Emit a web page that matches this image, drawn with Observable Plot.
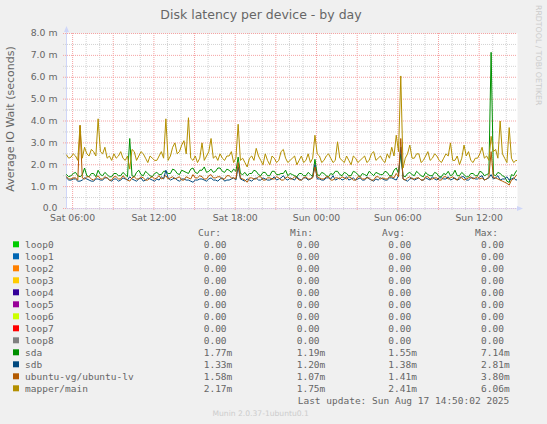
<!DOCTYPE html>
<html><head><meta charset="utf-8">
<script src="https://cdn.jsdelivr.net/npm/d3@7"></script>
<script src="https://cdn.jsdelivr.net/npm/@observablehq/plot@0.6"></script>
<style>
html,body{margin:0;padding:0;background:#f0f0f0;}
#wrap{position:relative;width:547px;height:424px;background:#f0f0f0;overflow:hidden;}
#wrap svg{position:absolute;left:0;top:0;}
</style></head><body><div id="wrap"></div>
<script>
// ---- time axis (hours since Sat 00:00) ----
const xStart = 5.55, xEnd = 38.83;      // Sat 05:33 .. Sun 14:50
const firstSample = 5.55, stepHours = 1/6;   // 10-minute samples
const hourMinor = [6,7,8,9,10,11,12,13,14,15,16,17,18,19,20,21,22,23,24,25,26,27,28,29,30,31,32,33,34,35,36,37,38].filter(h => h % 3 !== 0);
const hourMajor = [6,9,12,15,18,21,24,27,30,33,36];
const labelHours = [6,12,18,24,30,36];
const yMajor = [0,1,2,3,4,5,6,7,8];
const yMinor = [0.5,1.5,2.5,3.5,4.5,5.5,6.5,7.5];

// ---- series (milliseconds) ----
const sda = [1.55,1.45,1.5,1.6,1.65,1.5,1.45,1.55,1.85,1.5,1.45,1.6,1.6,1.45,1.75,1.55,1.5,1.65,1.55,1.45,
 1.45,1.6,1.6,1.5,1.5,1.65,1.55,1.45,3.2,1.5,1.45,1.65,1.75,1.55,1.5,1.7,1.6,1.5,1.45,1.6,
 1.65,1.55,1.55,1.7,1.7,1.6,1.6,1.8,1.75,1.6,1.55,1.75,1.7,1.65,1.6,1.8,1.85,1.65,1.6,1.75,
 1.75,1.9,1.65,1.7,1.8,1.65,1.7,1.85,1.85,1.7,1.65,1.8,1.75,1.65,1.8,1.7,2.35,1.6,1.55,1.65,
 1.5,1.6,1.6,1.75,1.7,1.55,1.5,1.65,1.65,1.5,1.5,1.7,1.7,1.55,1.55,1.6,1.6,1.75,1.5,1.6,
 1.55,1.5,1.45,1.6,1.6,1.5,1.5,1.65,1.55,1.45,2.25,1.55,1.5,1.65,1.6,1.5,1.45,1.6,1.55,1.7,
 1.7,1.55,1.5,1.65,1.6,1.5,1.5,1.7,1.65,1.55,1.45,1.6,1.55,1.5,1.7,1.6,1.5,1.65,1.6,1.55,
 1.55,1.7,1.65,1.5,1.5,1.75,1.85,1.6,2.5,1.5,1.45,1.6,1.65,1.55,1.5,1.7,1.6,1.5,1.45,1.65,
 1.55,1.5,1.5,1.65,1.6,1.45,1.45,1.6,1.55,1.7,1.5,1.55,1.75,1.5,1.5,1.65,1.55,1.45,1.45,1.6,
 1.6,1.5,1.5,1.7,1.65,1.5,1.55,1.6,7.14,1.55,1.5,1.65,1.6,1.5,1.45,1.25,1.19,1.55,1.5,1.7,
 1.77];
const sdb = [1.4,1.3,1.3,1.35,1.35,1.25,1.25,1.3,1.4,1.35,1.3,1.25,1.25,1.35,1.35,1.3,1.3,1.4,1.4,1.3,
 1.25,1.35,1.35,1.25,1.3,1.4,1.35,1.3,1.45,1.35,1.3,1.25,1.35,1.4,1.25,1.3,1.4,1.35,1.3,1.25,
 1.35,1.3,1.45,1.35,1.75,1.4,1.3,1.35,1.4,1.3,1.25,1.35,1.35,1.3,1.3,1.25,1.2,1.3,1.3,1.35,
 1.35,1.3,1.25,1.35,1.4,1.3,1.3,1.25,1.35,1.4,1.25,1.3,1.3,1.35,1.4,1.3,1.9,1.35,1.3,1.25,
 1.35,1.3,1.25,1.35,1.4,1.3,1.3,1.4,1.35,1.3,1.3,1.35,1.45,1.3,1.35,1.4,1.5,1.35,1.3,1.4,
 1.35,1.3,1.45,1.35,1.3,1.4,1.4,1.3,1.35,1.45,2.0,1.35,1.35,1.3,1.3,1.4,1.4,1.35,1.5,1.3,
 1.35,1.4,1.3,1.35,1.45,1.3,1.35,1.4,1.3,1.35,1.4,1.3,1.3,1.45,1.35,1.3,1.25,1.35,1.3,1.4,
 1.35,1.3,1.3,1.4,1.4,1.35,1.3,1.5,2.81,1.35,1.3,1.25,1.35,1.4,1.3,1.35,1.4,1.3,1.3,1.4,
 1.35,1.3,1.45,1.35,1.3,1.4,1.4,1.35,1.35,1.45,1.3,1.35,1.4,1.3,1.35,1.45,1.45,1.3,1.3,1.4,
 1.4,1.35,1.35,1.45,1.5,1.3,1.35,1.4,1.55,1.35,1.4,1.5,1.3,1.35,1.35,1.45,1.3,1.35,1.4,1.3,
 1.33];
const ubuntuLv = [1.45,1.35,1.35,1.4,1.4,1.3,3.8,1.4,1.35,1.45,1.45,1.35,1.3,1.4,1.5,1.35,1.35,1.45,1.4,1.3,
 1.3,1.45,1.45,1.35,1.35,1.5,1.4,1.3,1.25,1.4,1.45,1.35,1.35,1.45,1.4,1.3,1.3,1.4,1.45,1.35,
 1.4,1.5,1.35,1.4,1.5,1.35,1.4,1.45,1.35,1.4,1.45,1.3,1.3,1.45,1.4,1.35,1.55,1.4,1.4,1.5,
 1.45,1.35,1.35,1.5,1.55,1.4,1.4,1.45,1.45,1.35,1.35,1.5,1.5,1.4,1.4,1.35,2.1,1.4,1.35,1.3,
 1.2,1.4,1.4,1.35,1.35,1.45,1.45,1.3,1.3,1.4,1.4,1.35,1.35,1.45,1.4,1.3,1.3,1.4,1.45,1.35,
 1.35,1.45,1.4,1.3,1.3,1.4,1.45,1.35,1.35,1.4,1.9,1.45,1.4,1.35,1.35,1.45,1.45,1.3,1.3,1.4,
 1.4,1.35,1.45,1.4,1.35,1.45,1.4,1.3,1.3,1.45,1.45,1.35,1.35,1.4,1.4,1.3,1.3,1.45,1.45,1.35,
 1.4,1.35,1.35,1.45,1.45,1.4,1.6,1.45,3.2,1.35,1.3,1.4,1.45,1.35,1.35,1.4,1.4,1.3,1.3,1.45,
 1.45,1.35,1.35,1.4,1.4,1.3,1.3,1.45,1.45,1.35,1.4,1.45,1.35,1.3,1.45,1.4,1.3,1.35,1.4,1.45,
 1.35,1.4,1.45,1.35,1.4,1.3,1.35,1.45,2.6,1.4,1.4,1.35,1.3,1.25,1.2,1.15,1.07,1.3,1.35,1.5,
 1.58];
const mapperMain = [2.45,2.3,2.35,2.5,2.4,2.2,3.8,2.3,2.8,2.5,2.4,2.7,2.6,2.4,4.1,2.6,2.5,2.8,2.3,2.4,
 2.2,2.5,2.3,2.4,2.6,2.3,2.2,2.4,1.8,2.7,2.6,2.2,2.4,2.6,2.5,2.3,2.1,2.4,2.3,2.2,
 2.2,2.4,2.6,2.3,4.1,2.2,2.4,2.8,3.0,2.5,2.6,2.9,3.1,2.5,4.15,2.3,2.2,2.4,2.1,2.3,
 3.0,2.2,2.4,2.6,3.2,2.3,2.4,2.2,2.5,2.3,2.2,2.4,2.4,2.6,2.1,2.3,3.85,2.2,2.3,2.1,
 1.9,2.3,2.4,2.2,2.75,2.4,2.2,2.0,2.5,2.2,2.0,2.4,2.3,2.1,2.2,2.6,2.7,2.3,2.1,2.2,
 2.3,2.4,2.0,2.2,2.4,2.1,2.2,2.5,2.1,2.3,3.35,2.5,2.4,2.1,2.2,2.4,2.5,2.3,2.1,2.2,
 3.05,2.3,2.2,2.1,2.4,2.2,2.0,2.4,2.3,2.1,2.2,2.3,2.4,2.1,2.2,2.5,2.6,2.2,2.3,2.4,
 2.2,2.1,2.5,2.3,2.8,2.4,3.35,2.6,6.06,1.85,2.3,2.5,2.9,2.3,2.3,2.5,2.5,2.1,2.2,2.4,
 2.6,2.2,2.3,2.5,2.4,2.2,2.1,2.3,2.5,2.4,3.0,2.2,2.2,2.4,2.0,2.3,2.9,2.4,2.6,2.2,
 2.1,2.3,2.3,2.5,2.8,2.3,2.4,2.2,3.3,2.6,2.7,2.3,4.0,2.5,2.3,2.1,3.7,2.3,2.1,2.2,
 2.17];
const loopValue = 0; // every loop device reads 0.00 throughout

// ---- legend ----
const names = ["loop0","loop1","loop2","loop3","loop4","loop5","loop6","loop7","loop8","sda","sdb","ubuntu-vg/ubuntu-lv","mapper/main"];
const colors = ["#00cc00","#0066b3","#ff8000","#ffcc00","#330099","#990099","#ccff00","#ff0000","#808080","#008f00","#00487d","#b35a00","#b38f00"];
const curVals = ["0.00","0.00","0.00","0.00","0.00","0.00","0.00","0.00","0.00","1.77m","1.33m","1.58m","2.17m"];
const minVals = ["0.00","0.00","0.00","0.00","0.00","0.00","0.00","0.00","0.00","1.19m","1.20m","1.07m","1.75m"];
const avgVals = ["0.00","0.00","0.00","0.00","0.00","0.00","0.00","0.00","0.00","1.55m","1.38m","1.41m","2.41m"];
const maxVals = ["0.00","0.00","0.00","0.00","0.00","0.00","0.00","0.00","0.00","7.14m","2.81m","3.80m","6.06m"];
const titleText = "Disk latency per device - by day";
const yLabel = "Average IO Wait (seconds)";
const lastUpdate = "Last update: Sun Aug 17 14:50:02 2025";
const footer = "Munin 2.0.37-1ubuntu0.1";
const watermark = "RRDTOOL / TOBI OETIKER";

// ---- build rows ----
const times = d3.range(sda.length).map(i => firstSample + i * stepHours);
const seriesValues = {sda, sdb, "ubuntu-vg/ubuntu-lv": ubuntuLv, "mapper/main": mapperMain};
const loopRows = [], dataRows = [];
names.forEach(n => {
  times.forEach((t, i) => {
    if (seriesValues[n]) dataRows.push({name: n, t, v: seriesValues[n][i]});
    else loopRows.push({name: n, t, v: loopValue});
  });
});

const fmtY = d => d === 0 ? "0.0" : d.toFixed(1) + " m";
const fmtX = h => (h < 24 ? "Sat " : "Sun ") + String(h % 24).padStart(2, "0") + ":00";
const axisColor = "#cfd6f8";
const gridGray = "#d2d2d2", gridRed = "#f5a3a3", textColor = "#666";

const chart = Plot.plot({
  width: 547, height: 230,
  marginLeft: 66, marginRight: 30, marginTop: 33, marginBottom: 22,
  style: {background: "transparent", fontFamily: "'DejaVu Sans', sans-serif", fontSize: "9.3px", color: textColor, overflow: "visible"},
  x: {domain: [xStart, xEnd], axis: null},
  y: {domain: [0, 8], axis: null},
  color: {domain: names, range: colors},
  marks: [
    Plot.frame({fill: "white", stroke: "none"}),
    Plot.ruleY(yMinor, {stroke: gridGray, strokeDasharray: "1,1", insetLeft: -3}),
    Plot.ruleX(hourMinor, {stroke: gridGray, strokeDasharray: "1,1", insetBottom: -3}),
    Plot.ruleY(yMajor, {stroke: gridRed, strokeDasharray: "1,1", insetLeft: -3}),
    Plot.ruleX(hourMajor, {stroke: gridRed, strokeDasharray: "1,1", insetBottom: -3}),
    Plot.line(loopRows, {x: "t", y: "v", z: "name", stroke: "name", strokeWidth: 1, clip: true}),
    Plot.ruleY([0], {stroke: axisColor, strokeOpacity: 0.6, insetRight: -1}),
    Plot.ruleX([xStart], {stroke: axisColor, insetTop: -1}),
    Plot.line(dataRows, {x: "t", y: "v", z: "name", stroke: "name", strokeWidth: 1, clip: true}),
    Plot.text(yMajor, {x: () => xStart, y: d => d, text: fmtY, textAnchor: "end", dx: -9, fill: textColor, fontSize: 9.3}),
    Plot.text(labelHours, {x: d => d, y: () => 0, text: fmtX, dy: 9.5, fill: textColor, fontSize: 9.3})
  ]
});

// arrows at ends of axes
const sx = chart.scale("x"), sy = chart.scale("y");
const ax = sx.apply(xStart) + 0.5, ay0 = sy.apply(0) + 0.5, ayTop = sy.apply(8), axRight = sx.apply(xEnd);
const cs = d3.select(chart);
cs.append("path").attr("d", `M${ax - 2.5},${ayTop - 1}L${ax + 2.5},${ayTop - 1}L${ax},${ayTop - 7}Z`).attr("fill", axisColor);
cs.append("path").attr("d", `M${axRight},${ay0 - 2.5}L${axRight},${ay0 + 2.5}L${axRight + 6},${ay0}Z`).attr("fill", axisColor);

const wrap = document.getElementById("wrap");
wrap.appendChild(chart);

// ---- overlay: title, labels, legend ----
const ov = d3.create("svg").attr("width", 547).attr("height", 424)
  .style("font-family", "'DejaVu Sans', sans-serif");
ov.append("text").attr("x", 261).attr("y", 14).attr("text-anchor", "middle").attr("dominant-baseline", "central")
  .attr("font-size", 12.5).attr("fill", textColor).text(titleText);
ov.append("text").attr("transform", "translate(10.5,119) rotate(-90)").attr("text-anchor", "middle").attr("dominant-baseline", "central")
  .attr("font-size", 11).attr("fill", textColor).text(yLabel);
ov.append("text").attr("transform", "translate(538,5) rotate(90)").attr("text-anchor", "start").attr("dominant-baseline", "central")
  .attr("font-size", 7.8).attr("fill", "#cccccc").text(watermark);

const mono = "'DejaVu Sans Mono', monospace";
const lg = ov.append("g").attr("font-family", mono).attr("font-size", 9.5).attr("fill", textColor);
const heads = [["Cur:", 198], ["Min:", 290], ["Avg:", 382], ["Max:", 475]];
heads.forEach(([h, x]) => lg.append("text").attr("x", x).attr("y", 232.3).attr("dominant-baseline", "central").text(h));
const cols = [[curVals, 203.7], [minVals, 296.7], [avgVals, 388.3], [maxVals, 481]];
names.forEach((n, k) => {
  const y = 244.3 + 12 * k;
  lg.append("rect").attr("x", 13).attr("y", y - 3).attr("width", 6).attr("height", 6).attr("fill", colors[k]);
  lg.append("text").attr("x", 25).attr("y", y).attr("dominant-baseline", "central").text(n);
  cols.forEach(([arr, x]) => lg.append("text").attr("x", x).attr("y", y).attr("dominant-baseline", "central").text(arr[k]));
});
lg.append("text").attr("x", 297.7).attr("y", 400.7).attr("dominant-baseline", "central").text(lastUpdate);
ov.append("text").attr("x", 260.7).attr("y", 413).attr("text-anchor", "middle").attr("dominant-baseline", "central")
  .attr("font-size", 7.6).attr("fill", "#cccccc").text(footer);
wrap.appendChild(ov.node());
</script></body></html>
